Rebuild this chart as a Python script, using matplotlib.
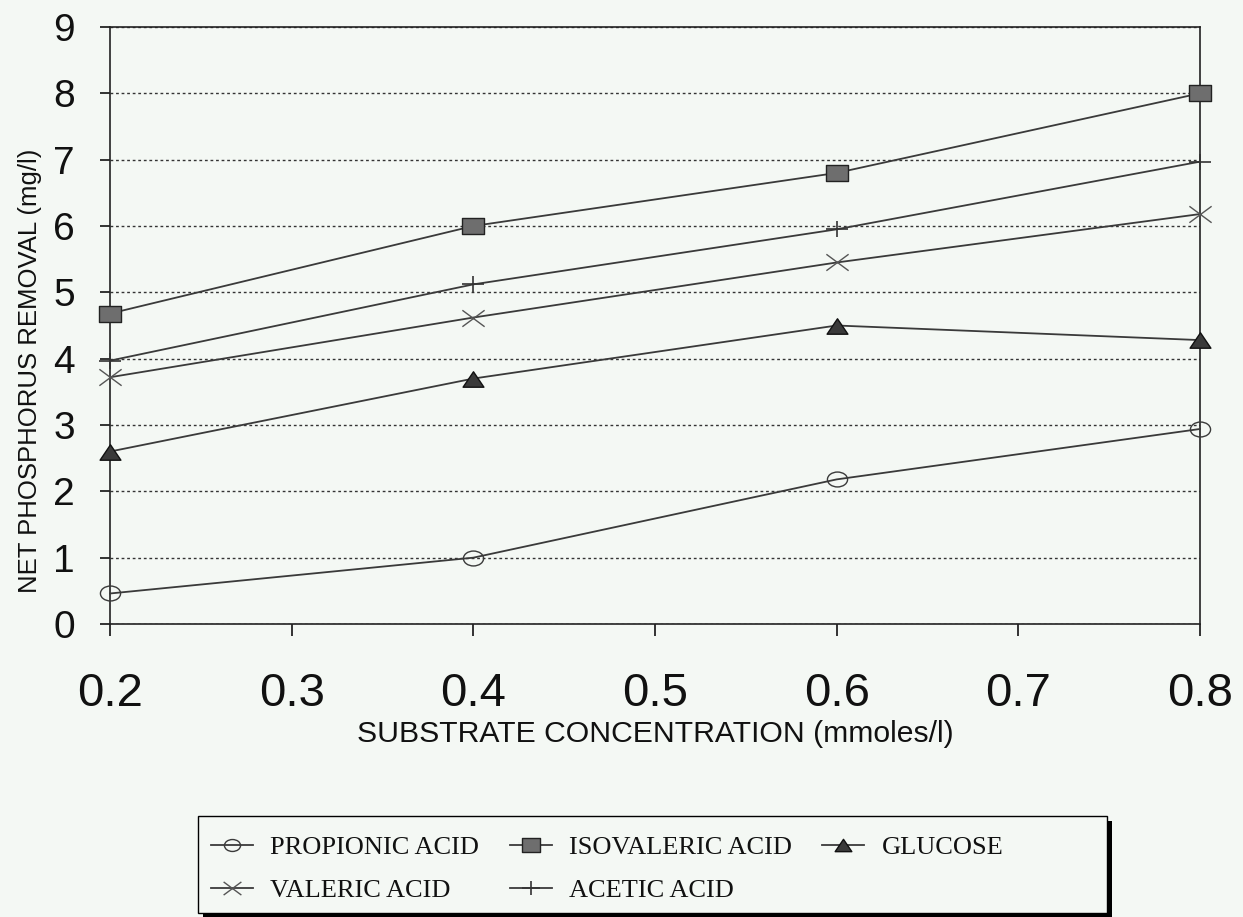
import numpy as np
import matplotlib.pyplot as plt
from matplotlib.path import Path
from matplotlib.patches import Rectangle
from matplotlib.transforms import Affine2D

# substrate concentration (mmoles/l)
conc = [0.2, 0.4, 0.6, 0.8]

# net phosphorus removal (mg/l)
propionic = [0.46, 1.0, 2.18, 2.94]
isovaleric = [4.68, 6.0, 6.8, 8.0]
glucose = [2.6, 3.7, 4.5, 4.28]
valeric = [3.72, 4.62, 5.45, 6.18]
acetic = [3.97, 5.12, 5.95, 6.97]

y_ticks = list(range(0, 10))
x_ticks = [0.2, 0.3, 0.4, 0.5, 0.6, 0.7, 0.8]

bg = '#f4f8f4'
line_col = '#3a3a3a'
W, H = 1243, 917

plt.rcParams['font.family'] = ['Liberation Sans', 'DejaVu Sans']

# the original markers are a bit squashed vertically
squash = 0.74
m_circle = Path.unit_circle().transformed(Affine2D().scale(1.0, squash))
m_square = Path([(-1, -squash), (1, -squash), (1, squash), (-1, squash), (-1, -squash)],
                [Path.MOVETO, Path.LINETO, Path.LINETO, Path.LINETO, Path.CLOSEPOLY])
m_tri = Path([(-1, -squash), (1, -squash), (0, squash), (-1, -squash)],
             [Path.MOVETO, Path.LINETO, Path.LINETO, Path.CLOSEPOLY])
m_x = Path([(-1, -squash), (1, squash), (-1, squash), (1, -squash)],
           [Path.MOVETO, Path.LINETO, Path.MOVETO, Path.LINETO])
m_plus = Path([(-1, 0), (1, 0), (0, -squash), (0, squash)],
              [Path.MOVETO, Path.LINETO, Path.MOVETO, Path.LINETO])

fig = plt.figure(figsize=(W / 100, H / 100), dpi=100, facecolor=bg)
ax = fig.add_axes([110 / W, 1 - 624 / H, 1090 / W, 597 / H], facecolor=bg)

common = dict(color=line_col, linewidth=1.3, clip_on=False, zorder=3)
h_prop, = ax.plot(conc, propionic, marker=m_circle, markersize=14.5, markerfacecolor='none',
                  markeredgecolor=line_col, markeredgewidth=1.0, label='PROPIONIC ACID', **common)
h_iso, = ax.plot(conc, isovaleric, marker=m_square, markersize=16, markerfacecolor='#6e6e6e',
                 markeredgecolor='#222222', markeredgewidth=1.0, label='ISOVALERIC ACID', **common)
h_glu, = ax.plot(conc, glucose, marker=m_tri, markersize=15, markerfacecolor='#3a3a3a',
                 markeredgecolor='#111111', markeredgewidth=1.0, label='GLUCOSE', **common)
h_val, = ax.plot(conc, valeric, marker=m_x, markersize=16, markerfacecolor='none',
                 markeredgecolor='#555555', markeredgewidth=1.0, label='VALERIC ACID', **common)
h_ace, = ax.plot(conc, acetic, marker=m_plus, markersize=16, markerfacecolor='none',
                 markeredgecolor='#333333', markeredgewidth=1.2, label='ACETIC ACID', **common)

ax.set_xlim(0.2, 0.8)
ax.set_ylim(0, 9)
ax.set_xticks(x_ticks)
ax.set_xticklabels([f'{v:.1f}' for v in x_ticks])
ax.set_yticks(y_ticks)

ax.yaxis.grid(True, linestyle=(0, (2, 2)), color='#333333', linewidth=1.0)
ax.set_axisbelow(True)

for s in ax.spines.values():
    s.set_color('#222222')
    s.set_linewidth(1.2)

ax.tick_params(axis='x', direction='out', length=8.6, width=1.2, labelsize=34, pad=26, colors='#111111')
ax.tick_params(axis='y', direction='out', length=7.2, width=1.2, labelsize=28, pad=18, colors='#111111')

ax.set_xlabel('SUBSTRATE CONCENTRATION (mmoles/l)', fontsize=21.7, labelpad=3, color='#111111')
ax.set_ylabel('NET PHOSPHORUS REMOVAL (mg/l)', fontsize=18.5, labelpad=8, color='#111111')
ax.yaxis.label.set_y(0.424)

# legend box with a solid black drop shadow, drawn by hand
def fig_rect(x0, y0, x1, y1, **kw):
    return Rectangle((x0 / W, 1 - y1 / H), (x1 - x0) / W, (y1 - y0) / H,
                     transform=fig.transFigure, **kw)

fig.patches.append(fig_rect(203, 821, 1112, 918, facecolor='black', edgecolor='none', zorder=1))
fig.patches.append(fig_rect(198, 816, 1107, 913, facecolor=bg, edgecolor='black',
                            linewidth=1.0, zorder=2))

handles = [h_prop, h_val, h_iso, h_ace, h_glu]
leg = fig.legend(handles=handles, loc='upper left', bbox_to_anchor=(211 / W, 1 - 836 / H),
                 ncol=3, frameon=False,
                 prop={'family': 'Liberation Serif', 'size': 19},
                 handlelength=1.6, handletextpad=0.65, columnspacing=1.15,
                 labelspacing=0.72, borderpad=0, borderaxespad=0, markerscale=0.8)
for t in leg.get_texts():
    t.set_color('#111111')

fig.savefig('out.png', dpi=100, facecolor=bg)
